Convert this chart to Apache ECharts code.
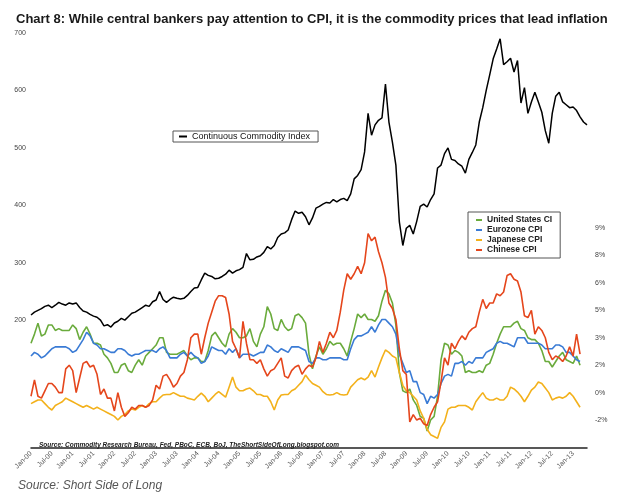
<!DOCTYPE html>
<html><head><meta charset="utf-8">
<script src="https://cdn.jsdelivr.net/npm/echarts@6/dist/echarts.min.js"></script>
<style>html,body{margin:0;padding:0;background:#fff}#c{width:621px;height:502px}</style>
</head><body><div id="c"></div>
<script>
// Continuous Commodity Index, monthly Jan-2000 .. May-2013
const commodityIndex = [
 209,214,217,220,224,226,222,226,231,228,226,230,
 228,230,222,216,214,210,207,205,200,190,192,188,
 195,198,203,200,206,212,214,218,222,226,224,232,
 235,250,236,231,236,240,238,237,238,243,250,256,
 257,270,282,278,276,272,273,276,280,287,282,286,
 288,292,316,305,306,310,312,318,328,324,330,344,
 350,352,357,375,390,386,388,380,366,378,395,398,
 402,405,404,410,406,410,412,408,420,446,452,462,
 493,560,522,540,548,552,611,545,510,470,371,330,
 360,365,350,372,398,402,397,410,420,465,470,490,
 500,480,478,472,468,456,480,492,505,545,570,600,
 627,655,672,690,645,650,656,632,652,578,605,560,
 580,597,580,562,530,508,560,590,597,580,575,570,
 571,565,554,545,540
];
// CPI YoY %, monthly Jan-2000 .. Mar-2013
const usCPI = [
 2.7,3.2,3.8,3.1,3.2,3.7,3.7,3.4,3.5,3.4,3.4,3.4,
 3.7,3.5,2.9,3.3,3.6,3.2,2.7,2.7,2.6,2.1,1.9,1.6,
 1.1,1.1,1.5,1.6,1.2,1.1,1.5,1.8,1.5,2.0,2.2,2.4,
 2.6,3.0,3.0,2.2,2.1,2.1,2.1,2.2,2.3,2.0,1.8,1.9,
 1.9,1.7,1.7,2.3,3.1,3.3,3.0,2.7,2.5,3.2,3.5,3.3,
 3.0,3.0,3.1,3.5,2.8,2.5,3.2,3.6,4.7,4.3,3.5,3.4,
 4.0,3.6,3.4,3.5,4.2,4.3,4.1,3.8,2.1,1.3,2.0,2.5,
 2.1,2.4,2.8,2.6,2.7,2.7,2.4,2.0,2.8,3.5,4.3,4.1,
 4.3,4.0,4.0,3.9,4.2,5.0,5.6,5.4,4.9,3.7,1.1,0.1,
 0.0,0.2,-0.4,-0.7,-1.3,-1.4,-2.1,-1.5,-1.3,-0.2,1.8,2.7,
 2.6,2.1,2.3,2.2,2.0,1.1,1.2,1.1,1.1,1.2,1.1,1.5,
 1.6,2.1,2.7,3.2,3.6,3.6,3.6,3.8,3.9,3.5,3.4,3.0,
 2.9,2.9,2.7,2.3,1.7,1.7,1.4,1.7,2.0,2.2,1.8,1.7,
 1.6,2.0,1.5
];
const euroCPI = [
 2.0,2.2,2.1,1.9,2.0,2.2,2.4,2.5,2.5,2.5,2.5,2.4,
 2.2,2.3,2.6,2.9,3.3,3.1,2.7,2.6,2.4,2.4,2.3,2.2,
 2.2,2.4,2.4,2.3,2.1,2.0,2.1,2.1,2.2,2.3,2.3,2.3,
 2.2,2.4,2.5,2.3,1.9,1.9,1.9,2.1,2.2,2.0,2.2,2.0,
 1.9,1.6,1.7,2.0,2.5,2.4,2.3,2.3,2.1,2.4,2.2,2.4,
 1.9,2.1,2.1,2.1,2.0,2.1,2.2,2.2,2.6,2.5,2.3,2.2,
 2.4,2.3,2.2,2.5,2.5,2.5,2.4,2.3,1.7,1.6,1.9,1.9,
 1.8,1.8,1.9,1.9,1.9,1.9,1.8,1.8,2.4,2.9,3.1,3.1,
 3.2,3.3,3.6,3.3,3.7,4.0,4.0,3.8,3.6,3.2,2.1,1.6,
 1.1,1.2,0.6,0.6,0.0,-0.1,-0.6,-0.2,-0.3,-0.1,0.5,0.9,
 1.0,0.9,1.6,1.6,1.7,1.5,1.7,1.6,1.9,1.9,1.9,2.2,
 2.3,2.4,2.7,2.8,2.7,2.7,2.6,2.5,3.0,3.0,3.0,2.7,
 2.7,2.7,2.7,2.6,2.4,2.4,2.4,2.6,2.6,2.5,2.2,2.2,
 2.0,1.8,1.7
];
const japanCPI = [
 -0.6,-0.5,-0.4,-0.4,-0.6,-0.8,-0.95,-0.7,-0.6,-0.5,-0.3,-0.4,
 -0.5,-0.6,-0.7,-0.8,-0.7,-0.8,-0.9,-0.8,-0.9,-1.0,-1.1,-1.2,
 -1.3,-1.5,-1.3,-1.2,-1.0,-0.9,-0.95,-0.8,-0.7,-0.8,-0.6,-0.5,
 -0.5,-0.3,-0.13,-0.1,-0.1,0.0,-0.1,-0.2,-0.2,-0.3,-0.35,-0.4,
 -0.2,-0.03,-0.2,-0.5,-0.3,-0.1,0.05,-0.1,-0.25,0.3,0.85,0.3,
 0.1,0.1,0.2,0.25,0.1,-0.1,-0.1,-0.2,-0.2,-0.5,-0.95,-0.4,
 -0.13,-0.1,-0.1,0.1,0.2,0.4,0.6,0.96,0.7,0.5,0.4,0.3,
 0.05,-0.1,-0.13,-0.1,0.0,-0.1,-0.13,-0.1,0.3,0.5,0.7,0.8,
 0.7,0.85,1.2,0.85,1.4,1.9,2.33,2.2,2.0,1.9,1.1,0.4,
 0.1,0.0,-0.2,-0.4,-1.0,-1.4,-2.0,-2.3,-2.4,-2.5,-1.9,-1.6,
 -0.9,-0.8,-0.8,-0.7,-0.7,-0.7,-0.8,-0.95,-0.5,-0.24,0.0,-0.3,
 -0.4,-0.4,-0.3,-0.4,-0.4,-0.2,0.3,0.2,0.03,-0.2,-0.5,-0.2,
 0.14,0.3,0.58,0.5,0.25,0.0,-0.4,-0.3,-0.24,-0.3,-0.2,0.0,
 -0.2,-0.5,-0.8
];
const chinaCPI = [
 -0.2,0.7,-0.2,-0.3,0.1,0.5,0.5,0.3,0.0,0.0,1.3,1.5,
 1.2,0.0,0.8,1.6,1.7,1.4,1.5,1.0,-0.1,0.2,-0.3,-0.3,
 -1.0,0.0,-0.8,-1.3,-1.1,-0.8,-0.9,-0.7,-0.7,-0.8,-0.7,-0.4,
 0.4,0.2,0.9,1.0,0.7,0.3,0.5,0.9,1.1,1.8,3.0,3.2,
 3.2,2.1,3.0,3.8,4.4,5.0,5.3,5.3,5.2,4.3,2.8,2.4,
 1.9,3.9,2.7,1.8,1.8,1.6,1.8,1.3,0.9,1.2,1.3,1.6,
 1.9,0.9,0.8,1.2,1.4,1.5,1.0,1.3,1.5,1.4,1.9,2.8,
 2.2,2.7,3.3,3.0,3.4,4.4,5.6,6.5,6.2,6.5,6.9,6.5,
 7.1,8.7,8.3,8.5,7.7,7.1,6.3,4.9,4.6,4.0,2.4,1.2,
 1.0,-1.6,-1.2,-1.5,-1.4,-1.7,-1.8,-1.2,-0.8,-0.5,0.6,1.9,
 1.5,2.7,2.4,2.8,3.1,2.9,3.3,3.5,3.6,4.4,5.1,4.6,
 4.9,4.9,5.4,5.3,5.5,6.4,6.5,6.2,6.1,5.5,4.2,4.1,
 4.5,3.2,3.6,3.4,3.0,2.2,1.8,2.0,1.9,1.7,2.0,2.5,
 2.0,3.2,2.1
];
const monthNames = ['Jan','Feb','Mar','Apr','May','Jun','Jul','Aug','Sep','Oct','Nov','Dec'];
const startYear = 2000;
const months = [];
for (let i = 0; i < commodityIndex.length; i++) {
  const y = startYear + Math.floor(i / 12);
  months.push(monthNames[i % 12] + '-' + String(y % 100).padStart(2, '0'));
}
const leftTicks = { min: 0, max: 700, step: 100, firstShown: 200 };
const rightTicks = { min: -3, max: 9, step: 1.5 };

const chart = echarts.init(document.getElementById('c'), null, { renderer: 'canvas' });
const font = 'Liberation Sans, Arial, sans-serif';
const colors = { us: '#6aab3c', eu: '#3a7bd5', jp: '#f3b11b', cn: '#e5461c' };

chart.setOption({
  animation: false,
  backgroundColor: '#ffffff',
  title: [
    { text: 'Chart 8: While central bankers pay attention to CPI, it is the commodity prices that lead inflation',
      left: 11, top: 8, textStyle: { fontFamily: font, fontSize: 13, fontWeight: 'bold', color: '#1a1a1a' } },
    { text: 'Source: Short Side of Long', left: 13, top: 475,
      textStyle: { fontFamily: font, fontSize: 12, fontStyle: 'italic', fontWeight: 'normal', color: '#555' } },
    { text: 'Source: Commodity Research Bureau, Fed, PBoC, ECB, BoJ, TheShortSideOfLong.blogspot.com', left: 34, top: 437,
      textStyle: { fontFamily: font, fontSize: 6.5, fontStyle: 'italic', fontWeight: 'bold', color: '#222' } }
  ],
  legend: [
    { data: ['Continuous Commodity Index'], left: 173, top: 131, orient: 'horizontal',
      borderColor: '#555', borderWidth: 1, padding: [1, 8, 1, 6], itemWidth: 8, itemHeight: 2, icon: 'rect',
      textStyle: { fontFamily: font, fontSize: 9, color: '#111' } },
    { data: ['United States CI', 'Eurozone CPI', 'Japanese CPI', 'Chinese CPI'], left: 468, top: 212, orient: 'vertical',
      borderColor: '#555', borderWidth: 1, padding: [3, 8, 3, 8], itemWidth: 6, itemHeight: 2, itemGap: 0, icon: 'rect',
      textStyle: { fontFamily: font, fontSize: 8.5, fontWeight: 'bold', color: '#222', lineHeight: 10 } }
  ],
  grid: [
    { left: 31, right: 34, top: 33, height: 402 },
    { left: 31, right: 34, top: 228, height: 219.5 }
  ],
  xAxis: [
    { type: 'category', gridIndex: 0, data: months, boundaryGap: false, show: false },
    { type: 'category', gridIndex: 1, data: months, boundaryGap: false,
      axisLine: { onZero: false, lineStyle: { color: '#222', width: 1.5 } }, axisTick: { show: false },
      axisLabel: { interval: 5, rotate: 45, fontFamily: font, fontSize: 7, color: '#555', margin: 5 } }
  ],
  yAxis: [
    { type: 'value', gridIndex: 0, min: leftTicks.min, max: leftTicks.max, interval: leftTicks.step, position: 'left',
      axisLine: { show: false }, axisTick: { show: false }, splitLine: { show: false },
      axisLabel: { fontFamily: font, fontSize: 7, color: '#444', margin: 5,
        formatter: v => v >= leftTicks.firstShown ? String(v) : '' } },
    { type: 'value', gridIndex: 1, min: rightTicks.min, max: rightTicks.max, interval: rightTicks.step, position: 'right',
      axisLine: { show: false }, axisTick: { show: false }, splitLine: { show: false },
      axisLabel: { fontFamily: font, fontSize: 7, color: '#444', margin: 8,
        formatter: v => v <= rightTicks.min ? '' : (Math.sign(v) * Math.round(Math.abs(v))) + '%' } }
  ],
  series: [
    { name: 'Continuous Commodity Index', type: 'line', xAxisIndex: 0, yAxisIndex: 0, data: commodityIndex,
      showSymbol: false, lineStyle: { color: '#000', width: 1.5 }, itemStyle: { color: '#000' } },
    { name: 'United States CI', type: 'line', xAxisIndex: 1, yAxisIndex: 1, data: usCPI,
      showSymbol: false, lineStyle: { color: colors.us, width: 1.6 }, itemStyle: { color: colors.us } },
    { name: 'Eurozone CPI', type: 'line', xAxisIndex: 1, yAxisIndex: 1, data: euroCPI,
      showSymbol: false, lineStyle: { color: colors.eu, width: 1.6 }, itemStyle: { color: colors.eu } },
    { name: 'Japanese CPI', type: 'line', xAxisIndex: 1, yAxisIndex: 1, data: japanCPI,
      showSymbol: false, lineStyle: { color: colors.jp, width: 1.6 }, itemStyle: { color: colors.jp } },
    { name: 'Chinese CPI', type: 'line', xAxisIndex: 1, yAxisIndex: 1, data: chinaCPI,
      showSymbol: false, lineStyle: { color: colors.cn, width: 1.6 }, itemStyle: { color: colors.cn } }
  ]
});
</script>
</body></html>
